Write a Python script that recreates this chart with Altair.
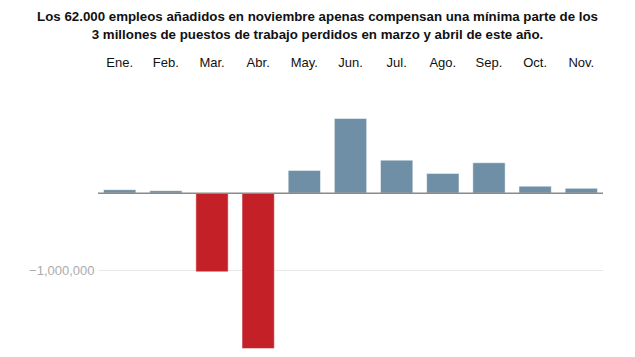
import altair as alt
import pandas as pd

months = ["Ene.", "Feb.", "Mar.", "Abr.", "May.", "Jun.", "Jul.", "Ago.", "Sep.", "Oct.", "Nov."]
values = [45000, 32000, -1020000, -2015000, 295000, 968000, 428000, 256000, 394000, 90000, 62000]

df = pd.DataFrame({"mes": months, "empleos": values})
df["signo"] = ["neg" if v < 0 else "pos" for v in values]

x = alt.X("mes:N", sort=months, title=None,
          scale=alt.Scale(paddingInner=0.3, paddingOuter=0.12),
          axis=alt.Axis(orient="top", domain=False, ticks=False, labelPadding=47,
                        labelFont="Liberation Sans", labelFontSize=13, labelColor="#111",
                        labelAngle=0))

yscale = alt.Scale(domain=[-2020000, 1000000], nice=False, zero=True)
yaxis = alt.Axis(values=[-1000000], format=",.0f", domain=False, ticks=False,
                 labelColor="#ababab", labelFont="Liberation Sans", labelFontSize=13,
                 labelPadding=4, gridColor="#e8e8e8", gridWidth=1)

bars = alt.Chart(df).mark_bar(stroke="#ffffff", strokeOpacity=0.5, strokeWidth=1).encode(
    x=x, y=alt.Y("empleos:Q", title=None, scale=yscale, axis=yaxis),
    color=alt.Color("signo:N", scale=alt.Scale(domain=["pos", "neg"], range=["#6e8fa5", "#c42027"]),
                    legend=None),
)

zero = alt.Chart(pd.DataFrame({"z": [0]})).mark_rule(color="#8a8a8a", strokeWidth=1.5).encode(
    y=alt.Y("z:Q", title=None, scale=yscale, axis=yaxis)
)

chart = alt.layer(bars, zero).properties(
    width=505, height=233,
    padding={"left": 98, "top": 116, "right": 32, "bottom": 8},
    autosize=alt.AutoSizeParams(type="none"),
    title=alt.TitleParams(
        text=["Los 62.000 empleos añadidos en noviembre apenas compensan una mínima parte de los",
              "3 millones de puestos de trabajo perdidos en marzo y abril de este año."],
        font="Liberation Sans", fontSize=13.3, fontWeight="bold", color="#111",
        anchor="middle", dx=-33, offset=15, lineHeight=18,
    ),
).configure_view(stroke=None)

chart.save("out.html", embed_options={"renderer": "svg", "actions": False})
